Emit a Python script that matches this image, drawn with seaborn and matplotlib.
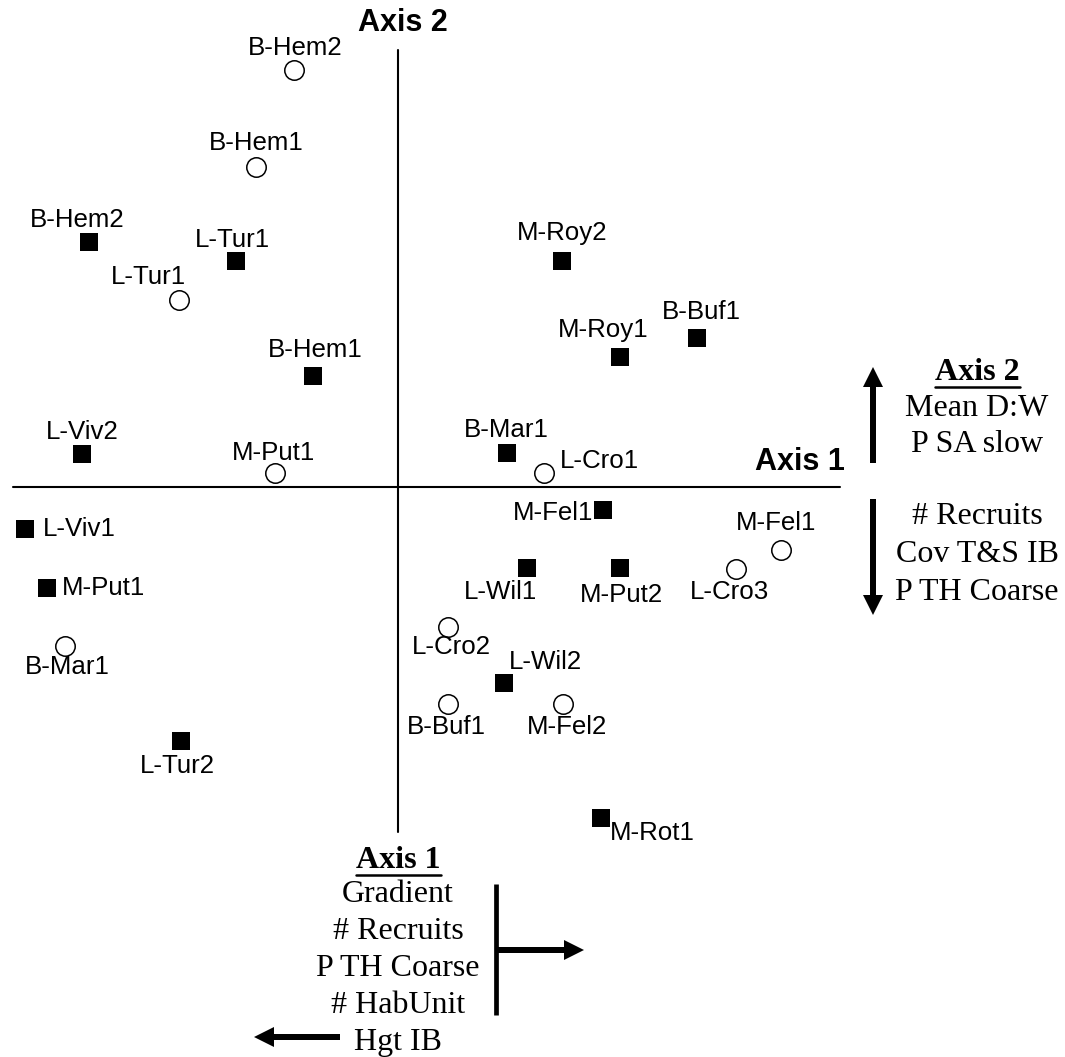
import matplotlib
matplotlib.use('Agg')
import matplotlib.pyplot as plt
import seaborn as sns
import pandas as pd

# site scores on the two ordination axes (open circles)
open_sites = ['B-Hem2', 'B-Hem1', 'L-Tur1', 'M-Put1', 'L-Cro1', 'M-Fel1',
              'L-Cro3', 'L-Cro2', 'B-Buf1', 'M-Fel2', 'B-Mar1']
open_ax1 = [-1.04, -1.42, -2.19, -1.23, 1.46, 3.83, 3.38, 0.50, 0.50, 1.65, -3.33]
open_ax2 = [4.17, 3.20, 1.87, 0.14, 0.14, -0.63, -0.82, -1.40, -2.17, -2.17, -1.59]

# site scores (filled squares)
filled_sites = ['B-Hem2', 'L-Tur1', 'M-Roy2', 'B-Buf1', 'M-Roy1', 'B-Hem1',
                'L-Viv2', 'B-Mar1', 'M-Fel1', 'L-Viv1', 'L-Wil1', 'M-Put2',
                'M-Put1', 'L-Wil2', 'L-Tur2', 'M-Rot1']
filled_ax1 = [-3.09, -1.62, 1.64, 2.99, 2.22, -0.85, -3.16, 1.09, 2.05, -3.73,
              1.29, 2.22, -3.51, 1.06, -2.17, 2.03]
filled_ax2 = [2.45, 2.26, 2.26, 1.49, 1.30, 1.11, 0.33, 0.34, -0.23, -0.42,
              -0.81, -0.81, -1.01, -1.96, -2.54, -3.31]

axis2_up = ['Mean D:W', 'P SA slow']
axis2_down = ['# Recruits', 'Cov T&S IB', 'P TH Coarse']
axis1_vars = ['Gradient', '# Recruits', 'P TH Coarse', '# HabUnit', 'Hgt IB']

# label placement (offset in pixels, alignment)
open_lab = {'B-Hem2': (1, 22, 'center'), 'B-Hem1': (0, 24, 'center'),
            'L-Tur1': (-31, 23, 'center'), 'M-Put1': (-1, 20, 'center'),
            'L-Cro1': (16, 12, 'left'), 'M-Fel1': (-5, 27, 'center'),
            'L-Cro3': (-6, -23, 'center'), 'L-Cro2': (3, -20, 'center'),
            'B-Buf1': (-2, -23, 'center'), 'M-Fel2': (4, -23, 'center'),
            'B-Mar1': (2, -21, 'center')}
filled_lab = {'B-Hem2': (-12, 22, 'center'), 'L-Tur1': (-4, 21, 'center'),
              'M-Roy2': (0, 28, 'center'), 'B-Buf1': (4, 26, 'center'),
              'M-Roy1': (-17, 27, 'center'), 'B-Hem1': (2, 26, 'center'),
              'L-Viv2': (0, 22, 'center'), 'B-Mar1': (-1, 23, 'center'),
              'M-Fel1': (-10, -3, 'right'), 'L-Viv1': (18, 0, 'left'),
              'L-Wil1': (-26, -24, 'center'), 'M-Put2': (1, -27, 'center'),
              'M-Put1': (15, 0, 'left'), 'L-Wil2': (41, 21, 'center'),
              'L-Tur2': (-4, -25, 'center'), 'M-Rot1': (9, -15, 'left')}

df_open = pd.DataFrame({'site': open_sites, 'ax1': open_ax1, 'ax2': open_ax2})
df_filled = pd.DataFrame({'site': filled_sites, 'ax1': filled_ax1, 'ax2': filled_ax2})

sns.set_style('white')
plt.rcParams['text.color'] = 'black'
SANS = 'Liberation Sans'
SERIF = 'Liberation Serif'


def px(x, y):
    # picture pixel -> data units (origin at axis crossing, 100 px per unit)
    return (x - 398) / 100, (487 - y) / 100


fig = plt.figure(figsize=(10.65, 10.57), dpi=100)
ax = fig.add_axes([0, 0, 1, 1])

# ordination axes
x0, _ = px(13, 0)
x1, _ = px(840, 0)
ax.plot([x0, x1], [0, 0], color='black', lw=1.5, zorder=1)
_, y0 = px(0, 50)
_, y1 = px(0, 832)
ax.plot([0, 0], [y0, y1], color='black', lw=1.5, zorder=1)

sns.scatterplot(data=df_open, x='ax1', y='ax2', marker='o', s=14 ** 2,
                color='white', edgecolor='black', linewidth=1.1, ax=ax, zorder=3)
sns.scatterplot(data=df_filled, x='ax1', y='ax2', marker='s', s=13 ** 2,
                color='black', edgecolor='black', linewidth=0, ax=ax, zorder=3)
ax.set_xlim(-3.98, 6.67)
ax.set_ylim(-5.70, 4.87)
ax.axis('off')

for df, lab in [(df_open, open_lab), (df_filled, filled_lab)]:
    for _, r in df.iterrows():
        dx, dy, ha = lab[r['site']]
        ax.annotate(r['site'], (r['ax1'], r['ax2']), xytext=(dx, dy),
                    textcoords='offset pixels', ha=ha, va='center',
                    fontsize=18.6, family=SANS, color='black')

ax.text(*px(403, 23), 'Axis 2', ha='center', va='center', fontsize=22,
        fontweight='bold', family=SANS)
ax.text(*px(800, 462), 'Axis 1', ha='center', va='center', fontsize=22,
        fontweight='bold', family=SANS)

# right legend: axis 2
ax.text(*px(977, 372), 'Axis 2', ha='center', va='center', fontsize=23,
        fontweight='bold', family=SERIF)
ax.plot(*zip(px(935, 387), px(1020, 387)), color='black', lw=1.8)
for i, t in enumerate(axis2_up):
    ax.text(*px(977, 408 + 37 * i), t, ha='center', va='center', fontsize=23, family=SERIF)
for i, t in enumerate(axis2_down):
    ax.text(*px(977, 517 + 37.5 * i), t, ha='center', va='center', fontsize=23, family=SERIF)

akw = dict(width=0.06, head_width=0.2, head_length=0.2,
           length_includes_head=True, color='black', lw=0)
tx, ty = px(873, 463)
ax.arrow(tx, ty, 0, 0.96, **akw)
tx, ty = px(873, 499)
ax.arrow(tx, ty, 0, -1.16, **akw)

# bottom legend: axis 1
ax.text(*px(398, 860), 'Axis 1', ha='center', va='center', fontsize=23,
        fontweight='bold', family=SERIF)
ax.plot(*zip(px(356, 875), px(441, 875)), color='black', lw=1.8)
for i, t in enumerate(axis1_vars):
    ax.text(*px(398, 895 + 36.8 * i), t, ha='center', va='center', fontsize=23, family=SERIF)

ax.plot(*zip(px(496, 884), px(496, 1015)), color='black', lw=3.4, solid_capstyle='butt')
tx, ty = px(496, 950)
ax.arrow(tx, ty, 0.88, 0, **akw)
tx, ty = px(340, 1037)
ax.arrow(tx, ty, -0.86, 0, **akw)

fig.savefig('out.png', dpi=100)
